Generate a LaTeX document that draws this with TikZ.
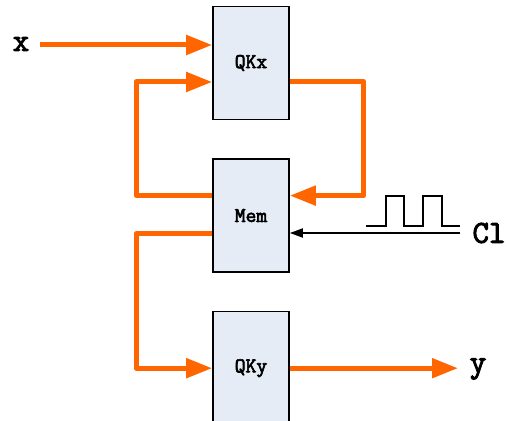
\documentclass[tikz,border=0pt]{standalone}
\usepackage{fontspec}
\setmonofont[AutoFakeBold=3]{Latin Modern Mono}
\usepackage{xcolor}
\usepackage{tikz}
\usetikzlibrary{shapes,arrows.meta,positioning}

\definecolor{flowcol}{HTML}{FF6600}
\definecolor{boxfill}{HTML}{E6ECF6}

\tikzset{
  block/.style={rectangle, draw, line width=1.6pt, fill=boxfill, minimum width=76pt, minimum height=113pt,
    font=\fontsize{21}{23}\selectfont\ttfamily\bfseries},
  sig/.style={font=\fontsize{32}{34}\selectfont\ttfamily\bfseries, inner sep=2pt},
  flow/.style={draw=flowcol, line width=5pt, line join=round, -{Triangle[length=26pt,width=19pt]}},
  clk/.style={draw, line width=1.8pt, -{Triangle[length=13pt,width=9pt]}},
  wave/.style={draw, line width=1.8pt}
}

\begin{document}
\begin{tikzpicture}[x=1pt, y=1pt, node distance=38pt]
    \useasboundingbox (0,0) rectangle (507,421);

    \node[block] (qkx) at (251,358) {QKx};
    \node[block, below=of qkx] (mem) {Mem};
    \node[block, below=of mem] (qky) {QKy};

    \node[sig] (xin) at (21,377) {x};
    \node[sig] (yout) at (478,52) {y};
    \node[sig] (cl) at (489,188) {Cl};

    \draw[flow] (40,376) -- (qkx.west |- 0,376);
    \draw[flow] ([yshift=20pt]mem.west) -- ++(-76pt,0) |- ([yshift=-19pt]qkx.west);
    \draw[flow] ([yshift=-19pt]qkx.east) -- ++(74pt,0) |- ([yshift=20pt]mem.east);
    \draw[flow] ([yshift=-18pt]mem.west) -- ++(-76pt,0) |- (qky.west);
    \draw[flow] (qky.east) -- (458,0 |- qky.east);

    % clock
    \draw[clk] (460,188) -- (mem.east |- 0,188);
    \draw[wave] (366,195) -- (386,195) -- (386,225) -- (404,225) -- (404,195)
      -- (423,195) -- (423,225) -- (442,225) -- (442,195) -- (460,195);
\end{tikzpicture}
\end{document}
